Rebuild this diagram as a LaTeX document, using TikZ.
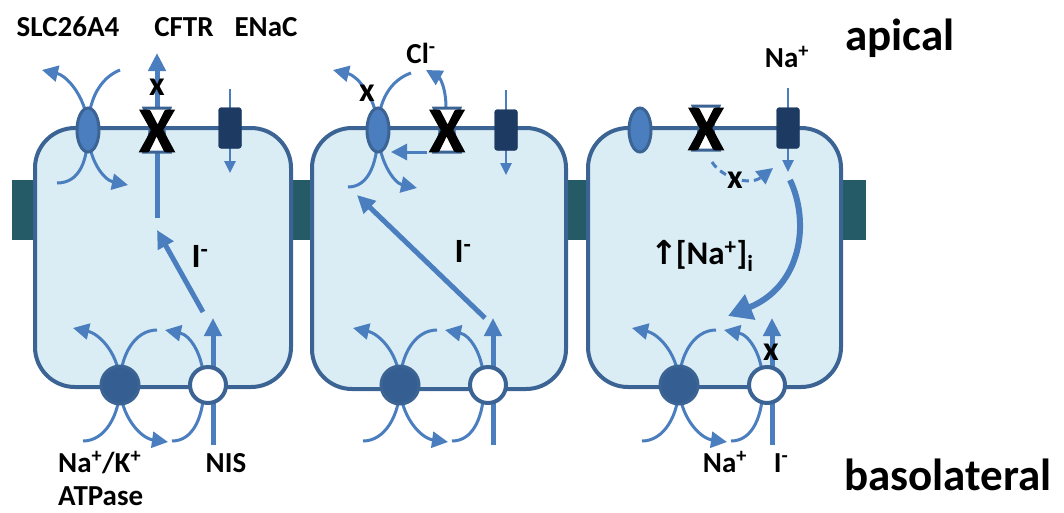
\documentclass[tikz,border=0pt]{standalone}
\usepackage{fontspec}
\setmainfont{Carlito}
\newfontfamily\arrowfont{DejaVu Sans}
\newfontfamily\heavyfont[BoldFeatures={FakeBold=1.6}]{Carlito}
\usetikzlibrary{arrows.meta,shapes.geometric}
\definecolor{cellfill}{HTML}{DAEDF4}
\definecolor{cellline}{HTML}{3B6494}
\definecolor{flowblue}{HTML}{4A7EBF}
\definecolor{enacblue}{HTML}{1D3A63}
\definecolor{pumpblue}{HTML}{355E92}
\definecolor{juncteal}{HTML}{245B66}
\begin{document}
\begin{tikzpicture}[x=1pt,y=-1pt,
  cell/.style={draw=cellline,fill=cellfill,line width=4pt,rounded corners=40pt},
  junc/.style={fill=juncteal},
  tail/.style={draw=flowblue,line width=3pt},
  flow/.style={tail,-{Triangle[length=16pt,width=16pt]}},
  bigflow/.style={draw=flowblue,line width=5pt,-{Triangle[length=18pt,width=17pt]}},
  thinflow/.style={draw=flowblue,line width=2.5pt,-{Triangle[length=12pt,width=11pt]}},
  exch/.style={ellipse,draw=cellline,fill=flowblue,line width=3pt,minimum width=22pt,minimum height=44pt,inner sep=0pt},
  enac/.style={rectangle,draw=enacblue,fill=enacblue,rounded corners=3pt,minimum width=23pt,minimum height=41pt,inner sep=0pt},
  pump/.style={circle,draw=cellline,fill=pumpblue,line width=3pt,minimum size=38pt,inner sep=0pt},
  nis/.style={circle,draw=cellline,fill=white,line width=4pt,minimum size=36pt,inner sep=0pt},
  cftr/.style={draw=cellline,fill=white,line width=3pt},
  lab/.style={font=\fontsize{29}{34}\selectfont\bfseries,inner sep=0pt},
  ion/.style={font=\fontsize{34}{38}\selectfont\bfseries,inner sep=0pt},
  side/.style={font=\fontsize{45}{50}\selectfont\bfseries,inner sep=0pt},
  smallx/.style={font=\fontsize{34}{38}\selectfont\bfseries,inner sep=0pt},
  bigx/.style={font=\fontsize{64}{70}\heavyfont\bfseries,inner sep=0pt}]
  \useasboundingbox (0,0) rectangle (1064,512);

  % tight junctions and the three cells
  \fill[junc] (12,180) rectangle (35,240);
  \fill[junc] (291,180) rectangle (312,240);
  \fill[junc] (566,180) rectangle (588,240);
  \fill[junc] (841,180) rectangle (866,240);
  \draw[cell] (35,128) rectangle (291,387);
  \draw[cell] (312,128) rectangle (566,389);
  \draw[cell] (588,128) rectangle (841,387);

  \coordinate (e1) at (88,130);  \coordinate (e2) at (378,130);  \coordinate (e3) at (640,130);
  \coordinate (en1) at (230,128); \coordinate (en2) at (506,130); \coordinate (en3) at (788,128);
  \coordinate (p1) at (120,385); \coordinate (p2) at (400,385); \coordinate (p3) at (679,385);
  \coordinate (n1) at (208,385); \coordinate (n2) at (488,385); \coordinate (n3) at (767,385);

  % cell 1
  \draw[flow] (57,183) .. controls (80,183) and (88,160) .. (e1) .. controls (88,100) and (68,76) .. (42,70);
  \draw[flow] (120,70) .. controls (100,78) and (88,100) .. (e1) .. controls (88,160) and (104,180) .. (128,185);
  \draw[bigflow] (157,218) -- (157,53);
  \draw[bigflow] (203,312) -- (157,230);
  \draw[thinflow] (230,89) -- (230,173);
  \draw[flow] (83,441) .. controls (105,441) and (120,415) .. (p1) .. controls (120,355) and (100,334) .. (73,328);
  \draw[flow] (157,330) .. controls (135,330) and (120,355) .. (p1) .. controls (120,415) and (140,438) .. (168,442);
  \draw[flow] (172,441) .. controls (194,441) and (204,415) .. (204,385) .. controls (204,355) and (190,335) .. (165,330);
  \draw[bigflow] (213,445) -- (213,318);

  % cell 2
  \draw[flow] (348,187) .. controls (370,187) and (378,160) .. (e2) .. controls (378,100) and (358,76) .. (333,70);
  \draw[flow] (411,73) .. controls (391,80) and (378,100) .. (e2) .. controls (378,160) and (394,183) .. (417,188);
  \draw[flow] (446,108) .. controls (446,88) and (440,78) .. (426,70);
  \draw[flow] (427,152) -- (391,152);
  \draw[bigflow] (485,318) -- (357,195);
  \draw[thinflow] (506,90) -- (506,175);
  \draw[flow] (363,441) .. controls (385,441) and (400,415) .. (p2) .. controls (400,355) and (380,334) .. (353,328);
  \draw[flow] (437,330) .. controls (415,330) and (400,355) .. (p2) .. controls (400,415) and (420,438) .. (448,442);
  \draw[flow] (452,441) .. controls (474,441) and (484,415) .. (484,385) .. controls (484,355) and (470,335) .. (445,330);
  \draw[bigflow] (493,445) -- (493,318);

  % cell 3
  \draw[thinflow] (788,88) -- (788,172);
  \draw[flow,dash pattern=on 7pt off 5pt] (712,162) .. controls (722,178) and (750,186) .. (773,168);
  \draw[draw=flowblue,line width=6pt,-{Triangle[length=24pt,width=26pt]}] (790,180) .. controls (810,222) and (802,286) .. (728,316);
  \draw[flow] (642,441) .. controls (664,441) and (679,415) .. (p3) .. controls (679,355) and (659,334) .. (632,328);
  \draw[flow] (716,330) .. controls (694,330) and (679,355) .. (p3) .. controls (679,415) and (699,438) .. (727,442);
  \draw[flow] (731,441) .. controls (753,441) and (763,415) .. (763,385) .. controls (763,355) and (749,335) .. (724,330);
  \draw[bigflow] (772,445) -- (772,318);

  % transporters
  \foreach \c in {e1,e2,e3} \node[exch] at (\c) {};
  \foreach \c in {en1,en2,en3} \node[enac] at (\c) {};
  \foreach \c in {p1,p2,p3} \node[pump] at (\c) {};
  \foreach \c in {n1,n2,n3} \node[nis] at (\c) {};
  \draw[cftr,shift={(157,130)}] (-13,-22) -- (13,-22) .. controls (5,0) .. (13,22) -- (-13,22) .. controls (-5,0) .. cycle;
  \draw[cftr,shift={(447,130)}] (-13,-22) -- (13,-22) .. controls (5,0) .. (13,22) -- (-13,22) .. controls (-5,0) .. cycle;
  \draw[cftr,shift={(706,128)}] (-13,-22) -- (13,-22) .. controls (5,0) .. (13,22) -- (-13,22) .. controls (-5,0) .. cycle;

  % blocked transport
  \node[bigx] (X1) at (157,131) {X};
  \node[bigx] (X2) at (447,131) {X};
  \node[bigx] (X3) at (706,129) {X};
  \node[smallx] (x1) at (157,87) {x};
  \node[smallx] (x2) at (367,93) {x};
  \node[smallx] (x3) at (735,180) {x};
  \node[smallx] (x4) at (771,352) {x};

  % labels
  \node[lab,anchor=base] (slc) at (68,36) {SLC26A4};
  \node[lab,anchor=base] (cftr) at (184,36) {CFTR};
  \node[lab,anchor=base] (enac) at (266,36) {ENaC};
  \node[lab,anchor=base] (cl) at (421,63) {Cl\textsuperscript{-}};
  \node[lab,anchor=base] (naout) at (787,67) {Na\textsuperscript{+}};
  \node[side,anchor=base] (apical) at (900,50) {apical};
  \node[side,anchor=base] (baso) at (948,490) {basolateral};
  \node[ion,anchor=base] (io1) at (200,267) {I\textsuperscript{-}};
  \node[ion,anchor=base] (io2) at (463,262) {I\textsuperscript{-}};
  \node[lab,anchor=base west,font=\fontsize{33}{37}\selectfont\bfseries] (nai) at (650,264)
    {{\arrowfont\bfseries ↑}\kern-2pt[Na\textsuperscript{+}]\textsubscript{i}};
  \node[lab,anchor=base west] (pumplab) at (58,472) {Na\textsuperscript{+}/K\textsuperscript{+}};
  \node[lab,anchor=base west] (atp) at (58,505) {ATPase};
  \node[lab,anchor=base] (nislab) at (226,472) {NIS};
  \node[lab,anchor=base] (nain) at (725,472) {Na\textsuperscript{+}};
  \node[lab,anchor=base] (iin) at (781,472) {I\textsuperscript{-}};
\end{tikzpicture}
\end{document}
